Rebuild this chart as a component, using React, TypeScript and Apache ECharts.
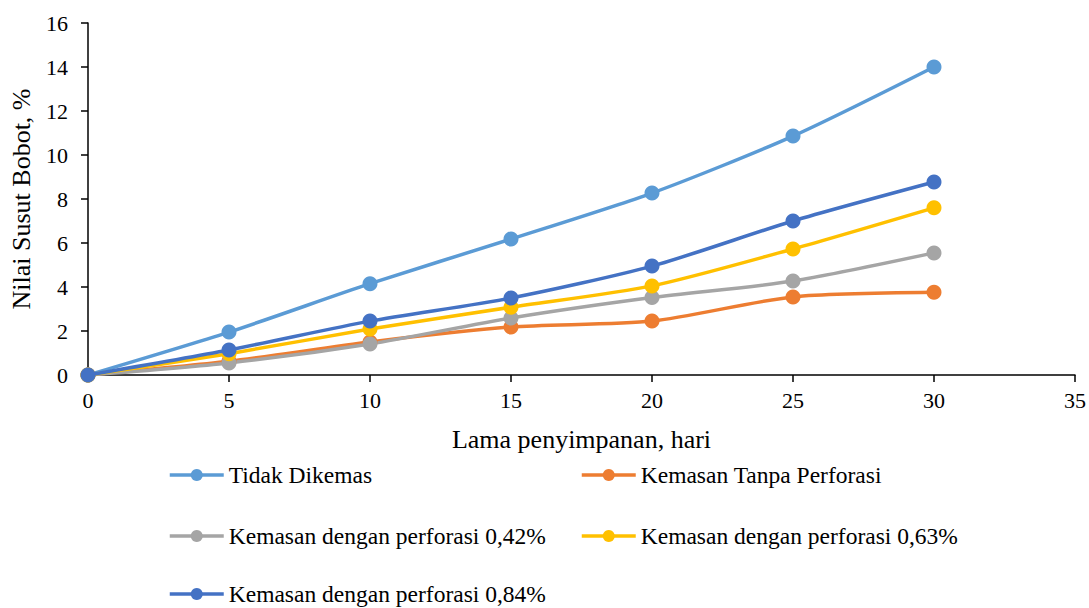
import React, { useEffect, useRef } from "react";
import * as echarts from "echarts";

const days = [0, 5, 10, 15, 20, 25, 30];
const seriesNames = [
  "Tidak Dikemas",
  "Kemasan Tanpa Perforasi",
  "Kemasan dengan perforasi 0,42%",
  "Kemasan dengan perforasi 0,63%",
  "Kemasan dengan perforasi 0,84%",
];
const tidakDikemas = [0, 1.95, 4.15, 6.18, 8.27, 10.86, 14.0];
const tanpaPerforasi = [0, 0.62, 1.5, 2.18, 2.45, 3.55, 3.76];
const perforasi042 = [0, 0.55, 1.41, 2.59, 3.52, 4.27, 5.55];
const perforasi063 = [0, 0.97, 2.09, 3.08, 4.05, 5.73, 7.6];
const perforasi084 = [0, 1.14, 2.45, 3.5, 4.95, 7.0, 8.77];
const colors = ["#5B9BD5", "#ED7D31", "#A5A5A5", "#FFC000", "#4472C4"];

const FONT = "'Times New Roman', 'Liberation Serif', serif";

export default function App() {
  const ref = useRef<HTMLDivElement>(null);
  useEffect(() => {
    if (!ref.current) return;
    const chart = echarts.init(ref.current, undefined, { renderer: "svg" });
    const allData = [tidakDikemas, tanpaPerforasi, perforasi042, perforasi063, perforasi084];
    const order = [0, 1, 2, 3, 4];
    const legendPos = [
      { left: 168, top: 463 },
      { left: 580, top: 463 },
      { left: 168, top: 524 },
      { left: 580, top: 524 },
      { left: 168, top: 582 },
    ];
    chart.setOption({
      animation: false,
      textStyle: { fontFamily: FONT },
      grid: { left: 87, right: 14, top: 23, bottom: 233, containLabel: false },
      xAxis: {
        type: "value",
        min: 0,
        max: 35,
        interval: 5,
        name: "Lama penyimpanan, hari",
        nameLocation: "middle",
        nameGap: 51,
        nameTextStyle: { fontFamily: FONT, fontSize: 26, color: "#000" },
        axisLine: { lineStyle: { color: "#000", width: 1.5 } },
        axisTick: { show: true, length: 7, lineStyle: { color: "#000", width: 1.5 } },
        axisLabel: { fontFamily: FONT, fontSize: 22, color: "#000", margin: 14 },
        splitLine: { show: false },
      },
      yAxis: {
        type: "value",
        min: 0,
        max: 16,
        interval: 2,
        name: "Nilai Susut Bobot, %",
        nameLocation: "middle",
        nameGap: 54,
        nameTextStyle: { fontFamily: FONT, fontSize: 26, color: "#000" },
        axisLine: { show: true, lineStyle: { color: "#000", width: 1.5 } },
        axisTick: { show: true, length: 7, lineStyle: { color: "#000", width: 1.5 } },
        axisLabel: { fontFamily: FONT, fontSize: 22, color: "#000", margin: 20 },
        splitLine: { show: false },
      },
      legend: order.map((i) => ({
        data: [seriesNames[i]],
        left: legendPos[i].left,
        top: legendPos[i].top,
        itemWidth: 54,
        itemHeight: 15,
        itemGap: 0,
        padding: 0,
        lineStyle: { width: 3.5 },
        textStyle: { fontFamily: FONT, fontSize: 23.5, color: "#000" },
      })),
      series: order.map((i) => ({
        name: seriesNames[i],
        type: "line",
        data: days.map((d, k) => [d, allData[i][k]]),
        smooth: 0.25,
        symbol: "circle",
        symbolSize: 15,
        lineStyle: { color: colors[i], width: 3.5 },
        itemStyle: { color: colors[i] },
        z: i === 4 ? 5 : 2,
      })),
    });
    return () => chart.dispose();
  }, []);
  return <div ref={ref} style={{ width: 1089, height: 608, position: "absolute", left: 0, top: 0 }} />;
}
